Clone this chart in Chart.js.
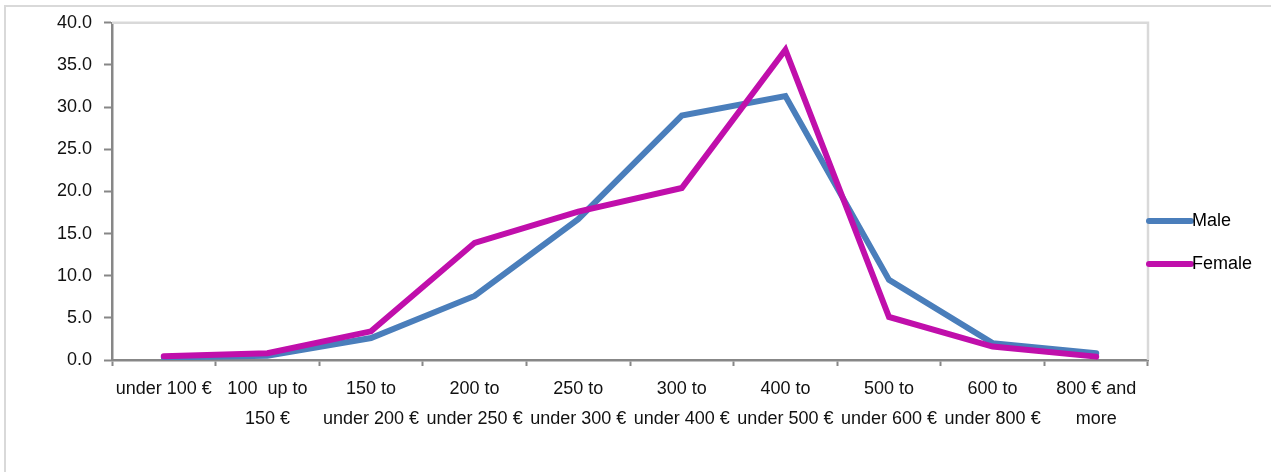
<!DOCTYPE html>
<html>
<head>
<meta charset="utf-8">
<script src="https://cdn.jsdelivr.net/npm/chart.js@4"></script>
<style>
  html, body { margin: 0; padding: 0; background: #fff; }
  canvas { display: block; }
</style>
</head>
<body>
<canvas id="c" width="1271" height="472"></canvas>
<script>
const categories = [
  ["under 100 €"],
  ["100  up to", "150 €"],
  ["150 to", "under 200 €"],
  ["200 to", "under 250 €"],
  ["250 to", "under 300 €"],
  ["300 to", "under 400 €"],
  ["400 to", "under 500 €"],
  ["500 to", "under 600 €"],
  ["600 to", "under 800 €"],
  ["800 € and", "more"]
];
const seriesNames = ["Male", "Female"];
const maleValues = [0.3, 0.5, 2.6, 7.6, 16.7, 29.0, 31.3, 9.5, 2.0, 0.8];
const femaleValues = [0.45, 0.8, 3.4, 13.9, 17.6, 20.4, 36.8, 5.1, 1.6, 0.4];
const yTicks = [0, 5, 10, 15, 20, 25, 30, 35, 40];

const MALE_COLOR = "#4a7ebb";
const FEMALE_COLOR = "#c00fab";
const AXIS_COLOR = "#878787";
const FRAME_COLOR = "#d9d9d9";
const FONT = "'Liberation Sans', Arial, sans-serif";

const framePlugin = {
  id: "frame",
  beforeDatasetsDraw(chart) {
    const { ctx, chartArea: a } = chart;
    ctx.save();
    ctx.strokeStyle = FRAME_COLOR;
    ctx.lineWidth = 2;
    ctx.beginPath();
    ctx.moveTo(5, 472);
    ctx.lineTo(5, 6);
    ctx.lineTo(1271, 6);
    ctx.stroke();
    ctx.lineWidth = 2.5;
    ctx.beginPath();
    ctx.moveTo(a.left, a.top);
    ctx.lineTo(a.right, a.top);
    ctx.lineTo(a.right, a.bottom);
    ctx.stroke();
    ctx.restore();
  },
  afterDraw(chart) {
    const { ctx, chartArea: a } = chart;
    ctx.save();
    const ys = [221, 264];
    chart.data.datasets.forEach((ds, i) => {
      const y = ys[i];
      ctx.strokeStyle = ds.borderColor;
      ctx.lineWidth = 6;
      ctx.lineCap = "round";
      ctx.beginPath();
      ctx.moveTo(a.right + 1, y);
      ctx.lineTo(a.right + 43, y);
      ctx.stroke();
      ctx.fillStyle = "#000";
      ctx.font = "18px " + FONT;
      ctx.textBaseline = "middle";
      ctx.textAlign = "left";
      ctx.fillText(ds.label, a.right + 44, y);
    });
    ctx.restore();
  }
};

new Chart(document.getElementById("c"), {
  type: "line",
  data: {
    labels: categories,
    datasets: [
      { label: seriesNames[0], data: maleValues, borderColor: MALE_COLOR, backgroundColor: MALE_COLOR, borderWidth: 6, pointRadius: 0, tension: 0, order: 1, borderJoinStyle: "miter", borderCapStyle: "round" },
      { label: seriesNames[1], data: femaleValues, borderColor: FEMALE_COLOR, backgroundColor: FEMALE_COLOR, borderWidth: 6, pointRadius: 0, tension: 0, order: 0, borderJoinStyle: "miter", borderCapStyle: "round" }
    ]
  },
  options: {
    responsive: false,
    animation: false,
    devicePixelRatio: 1,
    layout: { padding: { left: 0, top: 20, right: 123, bottom: 0 } },
    plugins: { legend: { display: false }, tooltip: { enabled: false } },
    scales: {
      x: {
        type: "category",
        offset: true,
        border: { color: AXIS_COLOR, width: 2.5 },
        grid: { display: true, drawOnChartArea: false, drawTicks: true, tickLength: 6, tickColor: AXIS_COLOR, tickWidth: 2, offset: true },
        ticks: { color: "#111", font: { family: FONT, size: 18, lineHeight: 1.67 }, padding: 8, maxRotation: 0, autoSkip: false },
        afterFit(s) { s.height = 112; }
      },
      y: {
        min: 0,
        max: 40,
        afterBuildTicks(s) { s.ticks = yTicks.map(v => ({ value: v })); },
        border: { color: AXIS_COLOR, width: 2.5 },
        grid: { display: true, drawOnChartArea: false, drawTicks: true, tickLength: 8, tickColor: AXIS_COLOR, tickWidth: 2 },
        ticks: { color: "#111", font: { family: FONT, size: 18 }, padding: 12, callback: v => Number(v).toFixed(1) },
        afterFit(s) { s.width = 112; }
      }
    }
  },
  plugins: [framePlugin]
});
</script>
</body>
</html>
